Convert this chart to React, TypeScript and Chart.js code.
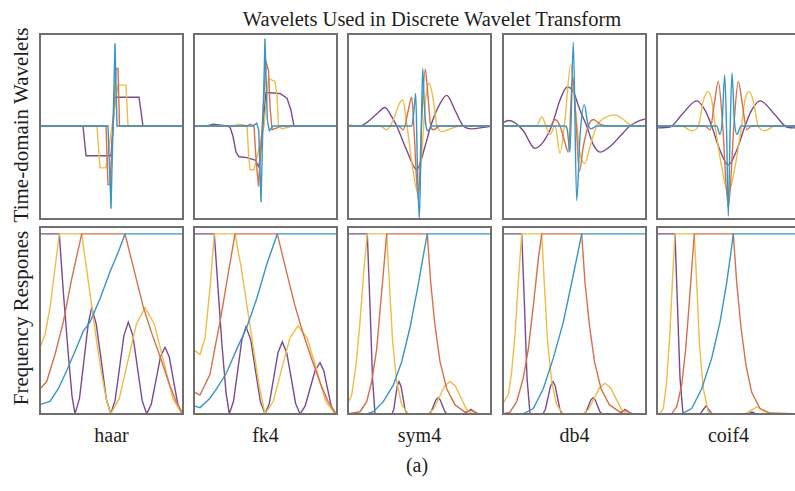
import React, { useEffect, useRef } from 'react';
import { Chart, registerables } from 'chart.js';

Chart.register(...registerables);

type P = [number, number];

// ---------- Column names / labels ----------
const WAVELET_NAMES = ['haar', 'fk4', 'sym4', 'db4', 'coif4'];
const TITLE = 'Wavelets Used in Discrete Wavelet Transform';
const ROW_LABELS = ['Time-domain Wavelets', 'Frequency Respones'];
const CAPTION = '(a)';

// ---------- Time-domain wavelets (x: sample position 0..145, y: normalised amplitude) ----------
const haarTimePurple: P[] = [[0, 0], [44, 0], [47, -0.32], [72, -0.32], [76, 0.31], [100, 0.31], [104, 0], [145, 0]];
const haarTimeYellow: P[] = [[0, 0], [58, 0], [61, -0.45], [67, -0.45], [79, 0.44], [87, 0.44], [89, 0], [145, 0]];
const haarTimeOrange: P[] = [[0, 0], [67, 0], [69, -0.63], [71, -0.63], [77, 0.62], [79, 0.62], [80.5, 0], [145, 0]];
const haarTimeBlue: P[] = [[0, 0], [69, 0], [72, -0.89], [76, 0.89], [78, 0], [145, 0]];

const fk4TimePurple: P[] = [[0, 0], [14, 0], [20, 0.02], [34, 0], [37, -0.01], [40, -0.11], [43, -0.28], [46, -0.33], [54, -0.34], [62, -0.365], [66, -0.44], [70, 0], [73, 0.36], [87, 0.35], [94, 0.3], [98, 0.17], [101, 0], [145, 0]];
const fk4TimeYellow: P[] = [[0, 0], [40, 0], [45, 0.02], [52, 0.01], [54, 0], [55.5, -0.29], [57, -0.47], [61, -0.47], [63, -0.38], [71, 0], [75.5, 0.51], [82, 0.48], [84, 0.32], [85.5, 0], [89, -0.03], [100, 0], [145, 0]];
const fk4TimeOrange: P[] = [[0, 0], [54, 0], [57, 0.02], [61, 0], [63, -0.35], [65.5, -0.65], [73, 0.69], [75.5, 0.6], [77, 0.21], [79, -0.04], [84, -0.02], [87, 0], [145, 0]];
const fk4TimeBlue: P[] = [[0, 0], [60, 0], [63.7, 0.03], [65.7, -0.04], [68, -0.82], [72, 0.94], [74.3, 0.07], [76.3, -0.05], [80, 0], [145, 0]];

const sym4TimePurple: P[] = [[0, 0.01], [13, 0], [23, 0.065], [29.7, 0.13], [38, 0.2], [44.7, 0.1], [49.7, 0], [59.7, -0.26], [69.7, -0.47], [78, -0.22], [83.7, 0], [93, 0.24], [99.7, 0.33], [108, 0.17], [116.3, 0], [124.7, -0.03], [136.3, -0.015], [145, 0]];
const sym4TimeYellow: P[] = [[0, 0], [33, 0], [39.7, -0.04], [46.3, 0.065], [52.3, 0.24], [55.7, 0.28], [59.7, 0.03], [64.7, -0.38], [71, -0.72], [74.7, -0.29], [79, 0.32], [82.3, 0.46], [85.7, 0.32], [89.7, 0.02], [94.7, -0.06], [103, -0.03], [113, 0], [145, 0]];
const sym4TimeOrange: P[] = [[0, 0], [51.3, 0], [56.3, -0.04], [61.3, 0.17], [64.7, 0.31], [67, -0.04], [71.3, -0.79], [74.7, 0.065], [78.3, 0.61], [81, 0.32], [83.7, 0], [86.3, -0.04], [93, 0], [145, 0]];
const sym4TimeBlue: P[] = [[0, 0], [64.7, 0], [67, 0.17], [68.7, 0.35], [70.3, -0.38], [72.3, -1.0], [74, -0.22], [75.7, 0.62], [77.3, 0.24], [79, 0], [81, -0.05], [84.7, 0], [145, 0]];

const db4TimePurple: P[] = [[0, 0.03], [6.3, 0.06], [13, 0.035], [21.3, -0.05], [33, -0.24], [41.3, -0.17], [49.7, 0], [58, 0.28], [65.3, 0.42], [71.3, 0.37], [78, 0.17], [84.7, 0], [91.3, -0.2], [98, -0.28], [108, -0.22], [118, -0.11], [128, 0], [138, 0.06], [145, 0.08]];
const db4TimeYellow: P[] = [[0, 0], [31.3, 0], [34.7, 0], [39.7, 0.1], [44.7, -0.02], [48, -0.09], [53, 0], [58, -0.29], [63, 0.07], [68.7, 0.66], [73, 0.21], [78, -0.29], [83, -0.4], [88, -0.22], [94.7, 0], [104.7, 0.1], [113, 0.12], [121.3, 0.07], [131.3, 0], [145, 0]];
const db4TimeOrange: P[] = [[0, 0], [48, 0], [53, 0.07], [58, 0], [63, -0.18], [66.3, -0.28], [70.7, 0.53], [74, 0.07], [77.3, -0.49], [81.3, -0.22], [86.3, 0], [91.3, 0.07], [98, 0.02], [104.7, 0], [145, 0]];
const db4TimeBlue: P[] = [[0, 0], [63, 0], [65.3, -0.04], [68, -0.28], [71.3, 0.9], [74.7, -0.8], [78, -0.11], [82.3, 0.23], [85.7, 0.03], [89, -0.03], [94.7, 0], [145, 0]];

const coif4TimePurple: P[] = [[0, -0.02], [14, -0.01], [25.7, 0.12], [40.7, 0.27], [49, 0.17], [55.7, 0], [64, -0.26], [72.3, -0.42], [80.7, -0.26], [89, 0], [95.7, 0.17], [104, 0.27], [119, 0.12], [130.7, -0.01], [139, -0.02], [145, -0.01]];
const coif4TimeYellow: P[] = [[0, 0], [25.7, 0], [35.7, -0.05], [42.3, 0], [47.3, 0.27], [51.7, 0.37], [55.7, 0.28], [59.7, -0.04], [65.7, -0.44], [72.3, -0.72], [79, -0.44], [85, -0.04], [89, 0.28], [93, 0.37], [97.3, 0.27], [102.3, 0], [109, -0.05], [119, 0], [145, 0]];
const coif4TimeOrange: P[] = [[0, 0], [49, 0], [54, -0.04], [58.3, 0.24], [62.3, 0.48], [66.3, 0.07], [72.3, -0.87], [78.3, 0.07], [82.3, 0.48], [86.3, 0.24], [90.7, -0.04], [95.7, 0], [145, 0]];
const coif4TimeBlue: P[] = [[0, 0], [60.7, 0], [64, -0.09], [66.3, 0.07], [68.7, 0.55], [70.7, -0.11], [72.3, -0.97], [74, -0.11], [76, 0.57], [78.3, 0.07], [81, -0.09], [85, 0], [145, 0]];

// ---------- Frequency responses (x: normalised frequency 0..145, y: clipped magnitude 0..1) ----------
const haarFreqPurple: P[] = [[0, 1], [20.3, 1], [24.3, 0.68], [29.3, 0.33], [33, 0.1], [36, 0], [40.5, 0.086], [44.9, 0.295], [49.2, 0.5], [52.7, 0.59], [57.2, 0.5], [62.3, 0.295], [67.2, 0.086], [71.7, 0], [76.1, 0.075], [80.5, 0.255], [84.9, 0.435], [89.3, 0.51], [93.9, 0.435], [98.5, 0.255], [103.1, 0.075], [107.7, 0], [112.3, 0.054], [116.9, 0.185], [121.4, 0.316], [126, 0.37], [130.3, 0.316], [134.5, 0.185], [138.8, 0.054], [143, 0], [145, 0.01]];
const haarFreqYellow: P[] = [[0, 0.355], [6, 0.44], [11, 0.59], [16, 0.81], [20.3, 1], [42.7, 1], [47.7, 0.8], [52.7, 0.6], [57.7, 0.4], [62.7, 0.22], [67.7, 0.07], [71.7, 0], [80.3, 0.086], [88.9, 0.295], [97.4, 0.5], [106, 0.59], [115.3, 0.5], [124.5, 0.295], [133.8, 0.086], [143, 0], [145, 0.01]];
const haarFreqOrange: P[] = [[0, 0.133], [7.7, 0.18], [16, 0.33], [24.3, 0.51], [32.7, 0.75], [42.7, 1], [86, 1], [95, 0.8], [104, 0.6], [112, 0.46], [121, 0.32], [130, 0.17], [137, 0.07], [143, 0.01], [145, 0.01]];
const haarFreqBlue: P[] = [[0, 0.05], [11, 0.07], [19.3, 0.14], [22.7, 0.18], [27.7, 0.24], [37.7, 0.37], [44.3, 0.46], [51, 0.51], [61, 0.64], [71, 0.79], [79.3, 0.9], [86, 1], [145, 1]];

const fk4FreqPurple: P[] = [[0, 1], [21.3, 1], [25, 0.7], [29, 0.38], [33, 0.12], [36.3, 0], [40.5, 0.07], [44.7, 0.24], [48.8, 0.41], [53, 0.485], [57.8, 0.41], [62.5, 0.24], [67.3, 0.07], [72, 0], [76.3, 0.058], [80.7, 0.2], [85, 0.34], [89.3, 0.4], [93.7, 0.34], [98.2, 0.2], [102.6, 0.058], [107, 0], [112, 0.042], [117, 0.14], [122, 0.24], [127, 0.285], [130.8, 0.24], [134.5, 0.14], [138.3, 0.042], [142, 0], [145, 0.01]];
const fk4FreqYellow: P[] = [[0, 0.36], [7, 0.33], [12, 0.42], [17, 0.7], [21.3, 1], [42, 1], [48, 0.82], [54, 0.6], [60, 0.38], [66, 0.16], [72, 0], [80.3, 0.07], [88.5, 0.245], [96.8, 0.42], [105, 0.49], [114.3, 0.42], [123.5, 0.245], [132.8, 0.07], [142, 0], [145, 0.01]];
const fk4FreqOrange: P[] = [[0, 0.125], [7, 0.105], [17, 0.22], [22, 0.37], [27, 0.51], [33.7, 0.73], [42, 1], [84.3, 1], [93, 0.8], [102, 0.6], [110, 0.45], [119, 0.3], [128, 0.16], [135, 0.07], [142, 0.01], [145, 0.01]];
const fk4FreqBlue: P[] = [[0, 0.046], [7, 0.035], [17, 0.087], [23.7, 0.14], [33.7, 0.23], [43.7, 0.36], [53.7, 0.48], [63.7, 0.64], [73.7, 0.83], [84.3, 1], [145, 1]];

const sym4FreqPurple: P[] = [[0, 1], [20.3, 1], [23, 0.6], [25.5, 0.2], [28, 0], [45, 0], [46.8, 0.026], [48.5, 0.09], [50.2, 0.154], [52, 0.18], [54, 0.154], [56, 0.09], [58, 0.026], [60, 0], [82, 0], [84.3, 0.013], [86.5, 0.045], [88.8, 0.077], [91, 0.09], [93.3, 0.077], [95.5, 0.045], [97.8, 0.013], [100, 0], [117, 0], [120.5, 0.012], [124, 0.025], [127.5, 0.012], [131, 0], [145, 0]];
const sym4FreqYellow: P[] = [[0, 0.05], [4.7, 0.105], [9, 0.27], [13, 0.51], [17, 0.81], [20.3, 1], [39.7, 1], [42.3, 0.73], [45.7, 0.4], [49.7, 0.18], [54.7, 0.05], [61.3, 0], [81, 0], [86.5, 0.026], [92, 0.09], [97.5, 0.154], [103, 0.18], [108.5, 0.154], [114, 0.09], [119.5, 0.026], [125, 0], [145, 0]];
const sym4FreqOrange: P[] = [[0, 0], [13, 0.012], [19.7, 0.068], [24.7, 0.18], [29.7, 0.36], [34.7, 0.68], [39.7, 1], [80.3, 1], [83.7, 0.73], [88, 0.49], [93, 0.29], [99.7, 0.14], [108, 0.05], [118, 0.01], [124, 0.02], [131, 0], [145, 0]];
const sym4FreqBlue: P[] = [[0, 0], [19.7, 0], [26.3, 0.012], [36.3, 0.068], [46.3, 0.16], [54.7, 0.29], [63, 0.48], [71.3, 0.72], [76.3, 0.88], [80.3, 1], [145, 1]];

const db4FreqPurple: P[] = [[0, 1], [19.7, 1], [22.5, 0.6], [25, 0.2], [28, 0], [41, 0], [43.4, 0.026], [46, 0.09], [48.5, 0.154], [51, 0.18], [53.3, 0.154], [55.5, 0.09], [57.8, 0.026], [60, 0], [82, 0], [84.3, 0.013], [86.5, 0.045], [88.8, 0.077], [91, 0.09], [93.3, 0.077], [95.5, 0.045], [97.8, 0.013], [100, 0], [118, 0], [120.5, 0.012], [123, 0.025], [126.5, 0.012], [130, 0], [145, 0]];
const db4FreqYellow: P[] = [[0, 0.05], [6.3, 0.105], [9.7, 0.235], [13, 0.44], [16.3, 0.73], [19.7, 1], [39.7, 1], [42.3, 0.73], [45.3, 0.42], [49.7, 0.18], [54.7, 0.05], [61.3, 0], [81, 0], [86.5, 0.025], [92, 0.085], [97.5, 0.145], [103, 0.17], [108.5, 0.145], [114, 0.085], [119.5, 0.025], [125, 0], [145, 0]];
const db4FreqOrange: P[] = [[0, 0], [8, 0.01], [14.7, 0.068], [21.3, 0.2], [26.3, 0.36], [31.3, 0.6], [36.3, 0.86], [39.7, 1], [79.7, 1], [83, 0.73], [87.5, 0.49], [92.5, 0.29], [99, 0.14], [107.5, 0.05], [118, 0.01], [123, 0.02], [130, 0], [145, 0]];
const db4FreqBlue: P[] = [[0, 0], [21.3, 0], [31.3, 0.03], [41.3, 0.14], [51.3, 0.31], [61.3, 0.51], [69.7, 0.73], [75.3, 0.88], [79.7, 1], [145, 1]];

const coif4FreqPurple: P[] = [[0, 1], [19, 1], [21.5, 0.6], [24, 0.2], [27, 0], [44, 0], [47, 0.022], [50, 0.045], [53, 0.022], [56, 0], [92, 0], [96, 0.01], [100, 0], [145, 0]];
const coif4FreqYellow: P[] = [[0, 0], [4, 0], [7.3, 0.03], [10.7, 0.18], [14, 0.46], [16.7, 0.77], [19, 1], [38.3, 1], [40.7, 0.73], [43.3, 0.4], [47.3, 0.14], [52.3, 0.012], [55.7, 0], [89, 0], [95, 0.02], [101, 0.04], [107, 0.02], [113, 0], [145, 0]];
const coif4FreqOrange: P[] = [[0, 0], [15.7, 0], [20.7, 0.04], [25.7, 0.16], [29.7, 0.36], [33.3, 0.62], [36.7, 0.88], [38.3, 1], [77.3, 1], [80.7, 0.73], [85, 0.48], [90, 0.27], [95.7, 0.12], [104, 0.03], [114, 0.005], [145, 0]];
const coif4FreqBlue: P[] = [[0, 0], [25.7, 0], [35.7, 0.03], [45.7, 0.14], [55.7, 0.31], [64, 0.51], [70.7, 0.73], [75, 0.9], [77.3, 1], [145, 1]];

// ---------- Styling ----------
const SERIES_COLORS = ['#3796c4', '#d6704d', '#eebc48', '#7a4a90']; // blue, orange, yellow, purple
const BORDER_COLOR = '#6f6f6f';
const FONT = '"Liberation Serif", "Times New Roman", serif';

const TIME_SERIES: P[][][] = [
  [haarTimeBlue, haarTimeOrange, haarTimeYellow, haarTimePurple],
  [fk4TimeBlue, fk4TimeOrange, fk4TimeYellow, fk4TimePurple],
  [sym4TimeBlue, sym4TimeOrange, sym4TimeYellow, sym4TimePurple],
  [db4TimeBlue, db4TimeOrange, db4TimeYellow, db4TimePurple],
  [coif4TimeBlue, coif4TimeOrange, coif4TimeYellow, coif4TimePurple],
];
const FREQ_SERIES: P[][][] = [
  [haarFreqBlue, haarFreqOrange, haarFreqYellow, haarFreqPurple],
  [fk4FreqBlue, fk4FreqOrange, fk4FreqYellow, fk4FreqPurple],
  [sym4FreqBlue, sym4FreqOrange, sym4FreqYellow, sym4FreqPurple],
  [db4FreqBlue, db4FreqOrange, db4FreqYellow, db4FreqPurple],
  [coif4FreqBlue, coif4FreqOrange, coif4FreqYellow, coif4FreqPurple],
];
const SMOOTH_TIME = [false, false, true, true, true];

// layout (pixels)
const COL_LEFT = [39, 193, 347, 502, 656];
const PANEL_W = 145;
const ROW_TOP = [33, 226];
const ROW_H = [187, 189];
const ROW_YRANGE: [number, number][] = [[-1.01, 1.0], [-0.006, 1.044]];

const borderPlugin = {
  id: 'panelBorder',
  afterDraw(chart: any) {
    const ctx = chart.ctx;
    ctx.save();
    ctx.strokeStyle = BORDER_COLOR;
    ctx.lineWidth = 2;
    ctx.strokeRect(1, 1, chart.width - 2, chart.height - 2);
    ctx.restore();
  },
};

function Panel(props: { left: number; top: number; width: number; height: number; series: P[][]; yRange: [number, number]; smooth: boolean }) {
  const ref = useRef<HTMLCanvasElement>(null);
  const { left, top, width, height, series, yRange, smooth } = props;
  useEffect(() => {
    if (!ref.current) return;
    const chart = new Chart(ref.current, {
      type: 'line',
      data: {
        datasets: series.map((pts, i) => ({
          data: pts.map(([x, y]) => ({ x, y })),
          borderColor: SERIES_COLORS[i],
          borderWidth: 1.4,
          pointRadius: 0,
          fill: false,
          tension: 0,
          cubicInterpolationMode: smooth ? 'monotone' : 'default',
          clip: 3,
        })),
      } as any,
      options: {
        animation: false,
        responsive: false,
        maintainAspectRatio: false,
        devicePixelRatio: 1,
        events: [],
        layout: { padding: 0 },
        scales: {
          x: { type: 'linear', min: 0, max: 145, display: false },
          y: { type: 'linear', min: yRange[0], max: yRange[1], display: false },
        },
        plugins: { legend: { display: false }, tooltip: { enabled: false }, title: { display: false } },
      } as any,
      plugins: [borderPlugin],
    });
    return () => chart.destroy();
  }, []);
  return (
    <canvas
      ref={ref}
      width={width}
      height={height}
      style={{ position: 'absolute', left, top, width, height, display: 'block' }}
    />
  );
}

export default function App() {
  const textBase: React.CSSProperties = {
    position: 'absolute',
    fontFamily: FONT,
    color: '#1e1e1e',
    whiteSpace: 'nowrap',
    lineHeight: '24px',
  };
  return (
    <div style={{ position: 'absolute', left: 0, top: 0, width: 795, height: 491, overflow: 'hidden', background: '#fff' }}>
      <div style={{ ...textBase, left: 132, width: 600, top: 7, fontSize: 20.5, textAlign: 'center' }}>{TITLE}</div>
      {[0, 1].map((r) => (
        <div
          key={'rl' + r}
          style={{
            ...textBase,
            fontSize: 21,
            left: 21,
            top: r === 0 ? 125 : 318,
            transform: 'translate(-50%, -50%) rotate(-90deg)',
          }}
        >
          {ROW_LABELS[r]}
        </div>
      ))}
      {WAVELET_NAMES.map((name, c) => (
        <React.Fragment key={name}>
          <Panel left={COL_LEFT[c]} top={ROW_TOP[0]} width={PANEL_W} height={ROW_H[0]} series={TIME_SERIES[c]} yRange={ROW_YRANGE[0]} smooth={SMOOTH_TIME[c]} />
          <Panel left={COL_LEFT[c]} top={ROW_TOP[1]} width={PANEL_W} height={ROW_H[1]} series={FREQ_SERIES[c]} yRange={ROW_YRANGE[1]} smooth={false} />
          <div style={{ ...textBase, fontSize: 20, left: COL_LEFT[c] + PANEL_W / 2 - 60, width: 120, textAlign: 'center', top: 423 }}>{name}</div>
        </React.Fragment>
      ))}
      <div style={{ ...textBase, fontSize: 20, left: 357, width: 120, textAlign: 'center', top: 453 }}>{CAPTION}</div>
    </div>
  );
}
